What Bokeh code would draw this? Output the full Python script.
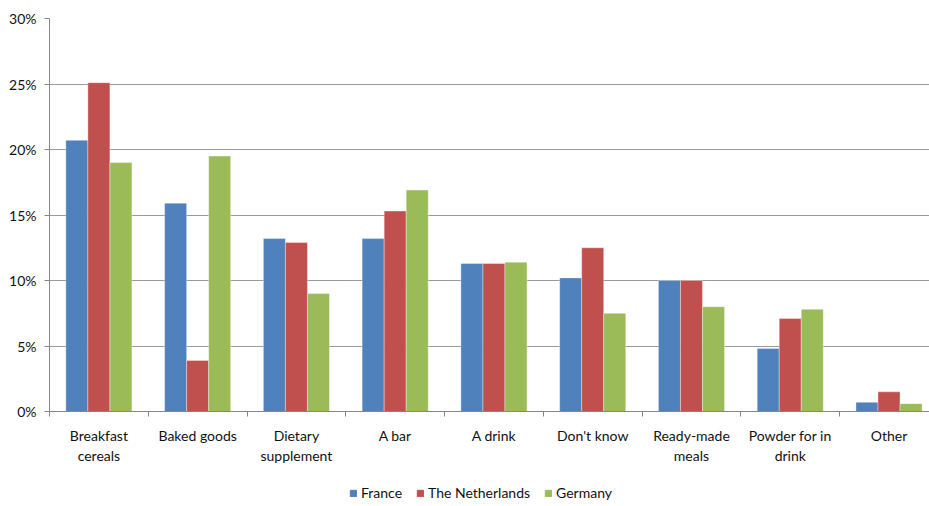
from bokeh.plotting import figure
from bokeh.layouts import column
from bokeh.models import FixedTicker, Legend, LegendItem, Range1d
from bokeh.embed import file_html
from bokeh.resources import INLINE

categories = ["Breakfast\ncereals", "Baked goods", "Dietary\nsupplement", "A bar", "A drink",
              "Don't know", "Ready-made\nmeals", "Powder for in\ndrink", "Other"]
series_names = ["France", "The Netherlands", "Germany"]
france = [20.7, 15.9, 13.2, 13.2, 11.3, 10.2, 10.0, 4.8, 0.7]
netherlands = [25.1, 3.9, 12.9, 15.3, 11.3, 12.5, 10.0, 7.1, 1.5]
germany = [19.0, 19.5, 9.0, 16.9, 11.4, 7.5, 8.0, 7.8, 0.6]
y_ticks = [0, 5, 10, 15, 20, 25, 30]
y_labels = ["0%", "5%", "10%", "15%", "20%", "25%", "30%"]

colors = ["#4F81BD", "#C0504D", "#9BBB59"]
FONT = "Lato"

p = figure(width=929, height=470, output_backend="svg", toolbar_location=None,
           x_range=Range1d(0, 8.91), y_range=Range1d(0, 30),
           min_border_left=49, min_border_right=0, min_border_top=18, min_border_bottom=59)
p.outline_line_color = None
p.background_fill_color = "white"

centers = [i + 0.5 for i in range(len(categories))]
bw = 0.223
for k, (vals, col) in enumerate(zip([france, netherlands, germany], colors)):
    xs = [c + (k - 1) * bw for c in centers]
    p.vbar(x=xs, top=vals, width=bw, bottom=0, fill_color=col,
           line_color="white", line_width=0.6, line_alpha=0.6)

# y axis
p.yaxis.ticker = FixedTicker(ticks=y_ticks)
p.yaxis.major_label_overrides = {t: l for t, l in zip(y_ticks, y_labels)}
p.yaxis.axis_line_color = "#868686"
p.yaxis.major_tick_line_color = "#868686"
p.yaxis.major_tick_out = 5
p.yaxis.major_tick_in = 0
p.yaxis.minor_tick_line_color = None
p.yaxis.major_label_text_font = FONT
p.yaxis.major_label_text_font_size = "14px"
p.yaxis.major_label_text_color = "#111111"
p.yaxis.major_label_standoff = 8

# x axis
p.xaxis.ticker = FixedTicker(ticks=centers, minor_ticks=list(range(0, 10)))
p.xaxis.major_label_overrides = {c: l for c, l in zip(centers, categories)}
p.xaxis.axis_line_color = "#868686"
p.xaxis.major_tick_line_color = None
p.xaxis.major_tick_out = 0
p.xaxis.major_tick_in = 0
p.xaxis.minor_tick_line_color = "#868686"
p.xaxis.minor_tick_out = 5
p.xaxis.minor_tick_in = 0
p.xaxis.major_label_text_font = FONT
p.xaxis.major_label_text_font_size = "14px"
p.xaxis.major_label_text_color = "#111111"
p.xaxis.major_label_standoff = 10

p.xgrid.grid_line_color = None
p.ygrid.grid_line_color = "#9a9a9a"
p.ygrid.grid_line_width = 1

# legend strip below the chart
lg = figure(width=929, height=36, output_backend="svg", toolbar_location=None,
            x_range=Range1d(0, 1), y_range=Range1d(0, 1),
            min_border_left=0, min_border_right=0, min_border_top=0, min_border_bottom=0)
lg.axis.visible = False
lg.grid.grid_line_color = None
lg.outline_line_color = None
leg_renderers = []
for col in colors:
    r = lg.vbar(x=[-5], top=[0], width=0.1, fill_color=col, line_color=col)
    leg_renderers.append(r)

legend = Legend(items=[LegendItem(label=n, renderers=[r]) for n, r in zip(series_names, leg_renderers)],
                orientation="horizontal", location=(300, 5),
                label_text_font=FONT, label_text_font_size="14px", label_text_color="#111111",
                glyph_width=8, glyph_height=8, label_standoff=4, spacing=14,
                padding=0, margin=0, border_line_color=None, background_fill_alpha=0)
lg.add_layout(legend, "center")

open("out.html", "w").write(file_html(column(p, lg, spacing=0), INLINE))
